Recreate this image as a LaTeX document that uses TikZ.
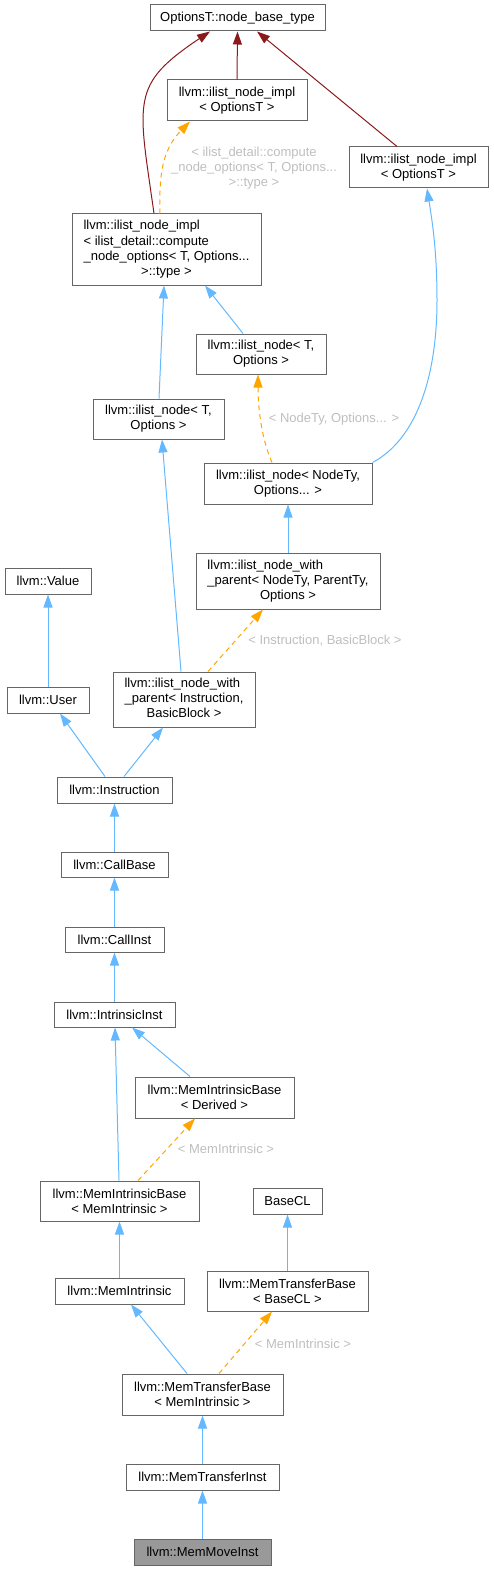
\documentclass[tikz,border=0pt]{standalone}
\usepackage{fontspec}
\setmainfont{Liberation Sans}
\usetikzlibrary{arrows.meta}
\definecolor{edgeblue}{HTML}{63B8FF}
\definecolor{edgeorange}{HTML}{FFA500}
\definecolor{edgered}{HTML}{8B1A1A}
\definecolor{boxgray}{HTML}{666666}
\definecolor{labgray}{HTML}{BEBEBE}
\definecolor{fillgray}{HTML}{999999}
\newcommand{\lastc}[1]{\multicolumn{1}{@{}c@{}}{#1}}
\begin{document}
\begin{tikzpicture}[x=1pt,y=-1pt,
  every node/.style={font=\fontsize{13}{15}\selectfont},
  cls/.style={draw=boxgray, line width=1pt, fill=white, inner sep=0pt, align=center},
  hl/.style={cls, fill=fillgray},
  tip/.style={-{Triangle[length=13pt,width=9pt]}},
  inh/.style={draw=edgeblue, line width=1pt, tip},
  tmpl/.style={draw=edgeorange, line width=1pt, dash pattern=on 5pt off 4pt, tip},
  rel/.style={draw=edgered, line width=1pt, tip},
  lab/.style={text=labgray, align=center, inner sep=0pt}]
\useasboundingbox (0,0) rectangle (494,1570);

% nodes
\node[cls, minimum width=175, minimum height=26] (base) at (237.5,18) {OptionsT::node\_base\_type};
\node[cls, minimum width=140, minimum height=41] (implMid) at (237,100.5) {llvm::ilist\_node\_impl\\< OptionsT >};
\node[cls, minimum width=139, minimum height=41] (implRight) at (418.5,167.5) {llvm::ilist\_node\_impl\\< OptionsT >};
\node[cls, minimum width=189, minimum height=71] (implDetail) at (166.5,249.5) {\begin{tabular}{@{}l@{}}llvm::ilist\_node\_impl\\< ilist\_detail::compute\\\_node\_options< T, Options...\\\lastc{>::type >}\end{tabular}};
\node[cls, minimum width=130, minimum height=40] (nodeTR) at (261,354) {llvm::ilist\_node< T,\\Options >};
\node[cls, minimum width=131, minimum height=40] (nodeTL) at (158.5,419) {llvm::ilist\_node< T,\\Options >};
\node[cls, minimum width=168, minimum height=41] (nodeNT) at (288,483.5) {llvm::ilist\_node< NodeTy,\\Options... >};
\node[cls, minimum width=184, minimum height=56] (nwpNT) at (288,581) {\begin{tabular}{@{}l@{}}llvm::ilist\_node\_with\\\_parent< NodeTy, ParentTy,\\\lastc{Options >}\end{tabular}};
\node[cls, minimum width=86, minimum height=26] (value) at (48,581) {llvm::Value};
\node[cls, minimum width=82, minimum height=26] (user) at (48,700) {llvm::User};
\node[cls, minimum width=142, minimum height=55] (nwpI) at (184,699.5) {\begin{tabular}{@{}l@{}}llvm::ilist\_node\_with\\\_parent< Instruction,\\\lastc{BasicBlock >}\end{tabular}};
\node[cls, minimum width=115, minimum height=26] (instr) at (114.5,790) {llvm::Instruction};
\node[cls, minimum width=107, minimum height=25] (callbase) at (114.5,864.5) {llvm::CallBase};
\node[cls, minimum width=99, minimum height=25] (callinst) at (114.5,939.5) {llvm::CallInst};
\node[cls, minimum width=121, minimum height=25] (intrinsic) at (114.5,1014.5) {llvm::IntrinsicInst};
\node[cls, minimum width=159, minimum height=41] (mibD) at (214.5,1097.5) {llvm::MemIntrinsicBase\\< Derived >};
\node[cls, minimum width=159, minimum height=40] (mibMI) at (119.5,1201) {llvm::MemIntrinsicBase\\< MemIntrinsic >};
\node[cls, minimum width=69, minimum height=26] (basecl) at (287.5,1201) {BaseCL};
\node[cls, minimum width=129, minimum height=26] (memintr) at (119.5,1291) {llvm::MemIntrinsic};
\node[cls, minimum width=161, minimum height=40] (mtbB) at (287.5,1291) {llvm::MemTransferBase\\< BaseCL >};
\node[cls, minimum width=161, minimum height=41] (mtbMI) at (202.5,1394.5) {llvm::MemTransferBase\\< MemIntrinsic >};
\node[cls, minimum width=153, minimum height=26] (mti) at (202.5,1477) {llvm::MemTransferInst};
\node[hl, minimum width=137, minimum height=26] (mmi) at (202.5,1552) {llvm::MemMoveInst};

% labels
\node[lab] (l1) at (254,168) {< ilist\_detail::compute\\\_node\_options< T, Options...\\>::type >};
\node[lab] (l2) at (334,419) {< NodeTy, Options... >};
\node[lab] (l3) at (325,641) {< Instruction, BasicBlock >};
\node[lab] (l4) at (226,1149) {< MemIntrinsic >};
\node[lab] (l5) at (303,1344) {< MemIntrinsic >};

% edges
\draw[rel] ([xshift=-12.5pt]implDetail.north) .. controls (138,100) and (130,85) .. ([xshift=-27.5pt]base.south);
\draw[rel] (implMid.north) -- (base.south);
\draw[rel] ([xshift=-21.5pt]implRight.north) -- ([xshift=19.5pt]base.south);
\draw[tmpl] ([xshift=-6.5pt]implDetail.north) .. controls (159,175) and (162,150) .. ([xshift=-47pt]implMid.south);
\draw[inh] (nodeNT.north east) .. controls (415,440) and (437,380) .. (437,300) .. controls (437,250) and (432,220) .. ([xshift=8.5pt]implRight.south);
\draw[inh] ([xshift=0.5pt]nodeTL.north) -- ([xshift=-2.5pt]implDetail.south);
\draw[inh] ([xshift=-18pt]nodeTR.north) -- ([xshift=38.5pt]implDetail.south);
\draw[tmpl] ([xshift=-16pt]nodeNT.north) .. controls (262,440) and (258,410) .. ([xshift=-3pt]nodeTR.south);
\draw[inh] (nwpNT.north) -- (nodeNT.south);
\draw[inh] ([xshift=-3pt]nwpI.north) -- ([xshift=3.5pt]nodeTL.south);
\draw[tmpl] ([xshift=24pt]nwpI.north) -- ([xshift=-25pt]nwpNT.south);
\draw[inh] (user.north) -- (value.south);
\draw[inh] ([xshift=-9.5pt]instr.north) -- ([xshift=12pt]user.south);
\draw[inh] ([xshift=9.5pt]instr.north) -- ([xshift=-21pt]nwpI.south);
\draw[inh] (callbase.north) -- (instr.south);
\draw[inh] (callinst.north) -- (callbase.south);
\draw[inh] (intrinsic.north) -- (callinst.south);
\draw[inh] ([xshift=-0.5pt]mibMI.north) -- ([xshift=0.5pt]intrinsic.south);
\draw[inh] ([xshift=-24.5pt]mibD.north) -- ([xshift=17.5pt]intrinsic.south);
\draw[tmpl] ([xshift=18.5pt]mibMI.north) -- ([xshift=-19.5pt]mibD.south);
\draw[inh] (memintr.north) -- (mibMI.south);
\draw[inh] (mtbB.north) -- (basecl.south);
\draw[inh] ([xshift=-15.5pt]mtbMI.north) -- ([xshift=11.5pt]memintr.south);
\draw[tmpl] ([xshift=16.5pt]mtbMI.north) -- ([xshift=-15.5pt]mtbB.south);
\draw[inh] (mti.north) -- (mtbMI.south);
\draw[inh] (mmi.north) -- (mti.south);
\end{tikzpicture}
\end{document}
